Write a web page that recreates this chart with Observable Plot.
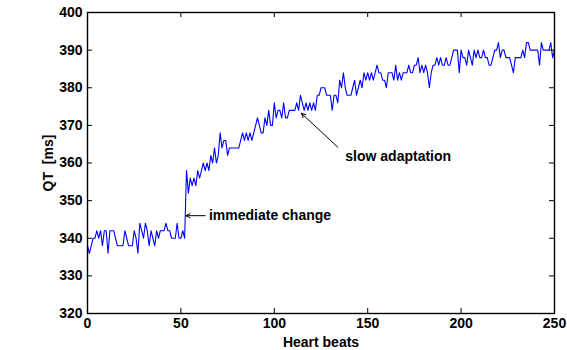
<!DOCTYPE html>
<html>
<head>
<meta charset="utf-8">
<script src="https://cdn.jsdelivr.net/npm/d3@7"></script>
<script src="https://cdn.jsdelivr.net/npm/@observablehq/plot@0.6"></script>
<style>
  html, body { margin: 0; padding: 0; background: #fff; }
  #chart { width: 567px; height: 350px; }
</style>
</head>
<body>
<div id="chart"></div>
<script>
// QT interval (ms) for heart beats 0..250
const qt = [
  338,336,338,340,340,342,340,342,338,342,
  342,336,342,342,342,340,338,338,338,338,
  342,340,338,338,338,342,340,336,344,342,
  340,344,342,338,342,340,338,342,340,342,
  342,342,344,342,342,340,340,340,344,340,
  340,342,340,358,352,356,354,356,354,358,
  356,358,360,358,360,358,362,360,364,360,
  362,368,364,366,366,362,364,364,364,364,
  364,364,366,368,366,368,366,368,366,368,
  370,372,370,368,368,372,370,374,370,370,
  376,372,374,374,372,376,372,372,374,374,
  374,374,376,374,378,376,374,376,374,376,
  374,376,374,378,378,380,380,380,378,378,
  378,374,378,378,376,382,380,384,380,378,
  378,378,380,382,378,380,382,380,384,382,
  384,382,384,382,384,386,384,384,382,382,
  380,384,384,384,382,386,382,384,382,384,
  384,384,386,384,384,386,386,388,384,386,
  384,386,384,380,384,386,386,388,386,388,
  386,386,388,386,386,388,390,390,390,384,
  390,388,388,386,390,388,386,390,388,390,
  388,388,390,388,388,386,386,388,390,390,
  392,388,390,390,388,388,388,386,384,388,
  388,388,388,390,388,392,392,390,390,390,
  390,390,386,392,390,390,390,390,392,388,
  390
];
const beats = qt.map((_, i) => i);
const xTicks = [0, 50, 100, 150, 200, 250];
const yTicks = [320, 330, 340, 350, 360, 370, 380, 390, 400];
const annotations = [
  {text: "immediate change", x1: 63, y1: 346, x2: 52.6, y2: 346, tx: 65, ty: 346},
  {text: "slow adaptation", x1: 134, y1: 364.2, x2: 114.5, y2: 373.2, tx: 138, ty: 361.8}
];

const data = beats.map((b, i) => ({beat: b, qt: qt[i]}));
const W = 567, H = 350, mL = 87, mR = 13, mT = 12, mB = 37;
const tk = 5;
const plotW = W - mL - mR, plotH = H - mT - mB;

const chart = Plot.plot({
  width: W, height: H,
  marginLeft: mL, marginRight: mR, marginTop: mT, marginBottom: mB,
  style: {fontFamily: "'Liberation Sans', Arial, Helvetica, sans-serif", fontSize: "14px", fontWeight: "bold", color: "black", background: "white"},
  x: {domain: [0, 250]},
  y: {domain: [320, 400]},
  marks: [
    Plot.line(data, {x: "beat", y: "qt", stroke: "#0000ff", strokeWidth: 1.1}),
    // inward ticks on all four sides
    Plot.tickX(xTicks, {x: d => d, stroke: "black", insetTop: plotH - tk}),
    Plot.tickX(xTicks, {x: d => d, stroke: "black", insetBottom: plotH - tk}),
    Plot.tickY(yTicks, {y: d => d, stroke: "black", insetRight: plotW - tk}),
    Plot.tickY(yTicks, {y: d => d, stroke: "black", insetLeft: plotW - tk}),
    Plot.axisX(xTicks, {tickSize: 0, tickPadding: 5, label: "Heart beats", labelAnchor: "center", labelArrow: "none", labelOffset: 33, fontSize: 14, fontWeight: "bold"}),
    Plot.axisY(yTicks, {tickSize: 0, tickPadding: 5, label: "QT  [ms]", labelAnchor: "center", labelOffset: 44, labelArrow: "none", fontSize: 14, fontWeight: "bold"}),
    Plot.frame({stroke: "black", strokeWidth: 1.4}),
    Plot.arrow(annotations, {x1: "x1", y1: "y1", x2: "x2", y2: "y2", stroke: "black", strokeWidth: 1, headLength: 7, headAngle: 50}),
    Plot.text(annotations, {x: "tx", y: "ty", text: "text", textAnchor: "start", fill: "black", fontSize: 14, fontWeight: "bold"})
  ]
});
document.getElementById("chart").appendChild(chart);
</script>
</body>
</html>
